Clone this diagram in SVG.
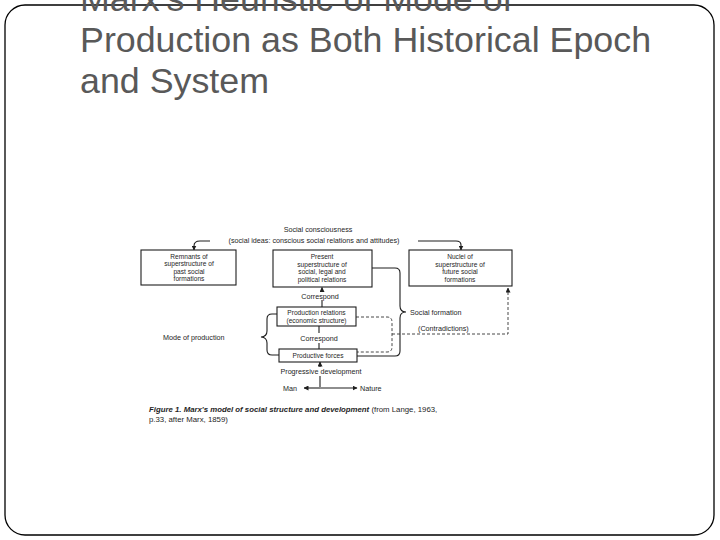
<svg xmlns="http://www.w3.org/2000/svg" width="720" height="540" viewBox="0 0 720 540">
<style>
.title{font-family:"Liberation Sans",Arial,sans-serif;font-size:35.8px;fill:#595959}
.t{font-family:"Liberation Sans",Arial,sans-serif;font-size:6.6px;fill:#1e1e1e;text-anchor:middle}
.tl{font-family:"Liberation Sans",Arial,sans-serif;font-size:7.2px;fill:#1e1e1e}
.box{fill:#ffffff;stroke:#1e1e1e;stroke-width:1.1}
.ln{fill:none;stroke:#1e1e1e;stroke-width:1.1}
.dash{fill:none;stroke:#333;stroke-width:0.9;stroke-dasharray:3 2}
.cap{font-family:"Liberation Sans",Arial,sans-serif;font-size:7.8px;fill:#1e1e1e}
</style>
<defs>
<marker id="ah" viewBox="0 0 10 10" refX="9" refY="5" markerWidth="5" markerHeight="5" orient="auto" markerUnits="userSpaceOnUse">
<path d="M0,0 L10,5 L0,10 z" fill="#1e1e1e"/>
</marker>
</defs>
<rect x="0" y="0" width="720" height="540" fill="#ffffff"/>
<rect id="frame" x="5" y="5" width="709" height="530" rx="20" ry="20" fill="none" stroke="#000" stroke-width="1.3"/>
<g id="title">
<text class="title" x="80" y="11">Marx's Heuristic of Mode of</text>
<text class="title" x="80" y="52">Production as Both Historical Epoch</text>
<text class="title" x="80" y="93">and System</text>
</g>
<g id="connectors">
<path class="ln" d="M210 241 L200 241 Q194 241 194 246 L194 250" marker-end="url(#ah)"/>
<path class="ln" d="M418 241 L456 241 Q461 241 461 245 L461 250" marker-end="url(#ah)"/>
<path class="ln" d="M322 292 L322 287.5" marker-end="url(#ah)"/>
<path class="ln" d="M322 307 L322 300"/>
<path class="ln" d="M319 326 L319 333"/>
<path class="ln" d="M319 343 L319 349"/>
<path class="ln" d="M320 367 L320 362" marker-end="url(#ah)"/>
<path class="ln" d="M320 387 L320 376"/>
<path class="ln" d="M320 388 L304 388" marker-end="url(#ah)"/>
<path class="ln" d="M320 388 L357 388" marker-end="url(#ah)"/>
<path class="ln" d="M277 314 L272 314 Q267 314 267 319 L267 331 Q267 336.5 261 337 Q267 337.5 267 343 L267 350 Q267 355 272 355 L279 355"/>
<path class="ln" d="M372 268 L395 268 Q400 268 400 273 L400 306 Q400 312 406 312 Q400 312 400 318 L400 351 Q400 356 395 356 L357 356"/>
<path class="dash" d="M356 317 L387 317 Q392 317 392 322 L392 347 Q392 352 387 352 L357 352"/>
<path class="dash" d="M392 334 L508 334 L508 288" marker-end="url(#ah)"/>
</g>
<g id="social-consciousness">
<text class="tl" x="318" y="232" text-anchor="middle">Social consciousness</text>
<text class="tl" x="314" y="243" text-anchor="middle">(social ideas: conscious social relations and attitudes)</text>
</g>
<g id="remnants">
<rect class="box" x="141" y="250" width="95" height="35"/>
<text class="t" x="189" y="258.5">Remnants of</text>
<text class="t" x="189" y="266">superstructure of</text>
<text class="t" x="189" y="273.5">past social</text>
<text class="t" x="189" y="281">formations</text>
</g>
<g id="present">
<rect class="box" x="273" y="250" width="99" height="37"/>
<text class="t" x="322" y="259">Present</text>
<text class="t" x="322" y="266.5">superstructure of</text>
<text class="t" x="322" y="274">social, legal and</text>
<text class="t" x="322" y="281.5">political relations</text>
</g>
<g id="nuclei">
<rect class="box" x="409" y="250" width="103" height="36"/>
<text class="t" x="460" y="259">Nuclei of</text>
<text class="t" x="460" y="266.5">superstructure of</text>
<text class="t" x="460" y="274">future social</text>
<text class="t" x="460" y="281.5">formations</text>
</g>
<g id="correspond-1">
<text class="tl" x="320" y="298.5" text-anchor="middle">Correspond</text>
</g>
<g id="production-relations">
<rect class="box" x="277" y="307" width="79" height="19"/>
<text class="t" x="316.5" y="315">Production relations</text>
<text class="t" x="316.5" y="322.5">(economic structure)</text>
</g>
<g id="correspond-2">
<text class="tl" x="319" y="341" text-anchor="middle">Correspond</text>
</g>
<g id="productive-forces">
<rect class="box" x="279" y="349" width="78" height="13"/>
<text class="t" x="318" y="358">Productive forces</text>
</g>
<g id="progressive">
<text class="tl" x="321" y="373.5" text-anchor="middle">Progressive development</text>
</g>
<g id="man"><text class="tl" x="283" y="391">Man</text></g>
<g id="nature"><text class="tl" x="360" y="391">Nature</text></g>
<g id="mode"><text class="tl" x="163" y="339.5">Mode of production</text></g>
<g id="social-formation"><text class="tl" x="410" y="314.5">Social formation</text></g>
<g id="contradictions"><text class="tl" x="418" y="331">(Contradictions)</text></g>
<g id="caption">
<text class="cap" x="149" y="412"><tspan font-weight="bold" font-style="italic">Figure 1. Marx's model of social structure and development</tspan> (from Lange, 1963,</text>
<text class="cap" x="149" y="421.5">p.33, after Marx, 1859)</text>
</g>
</svg>
